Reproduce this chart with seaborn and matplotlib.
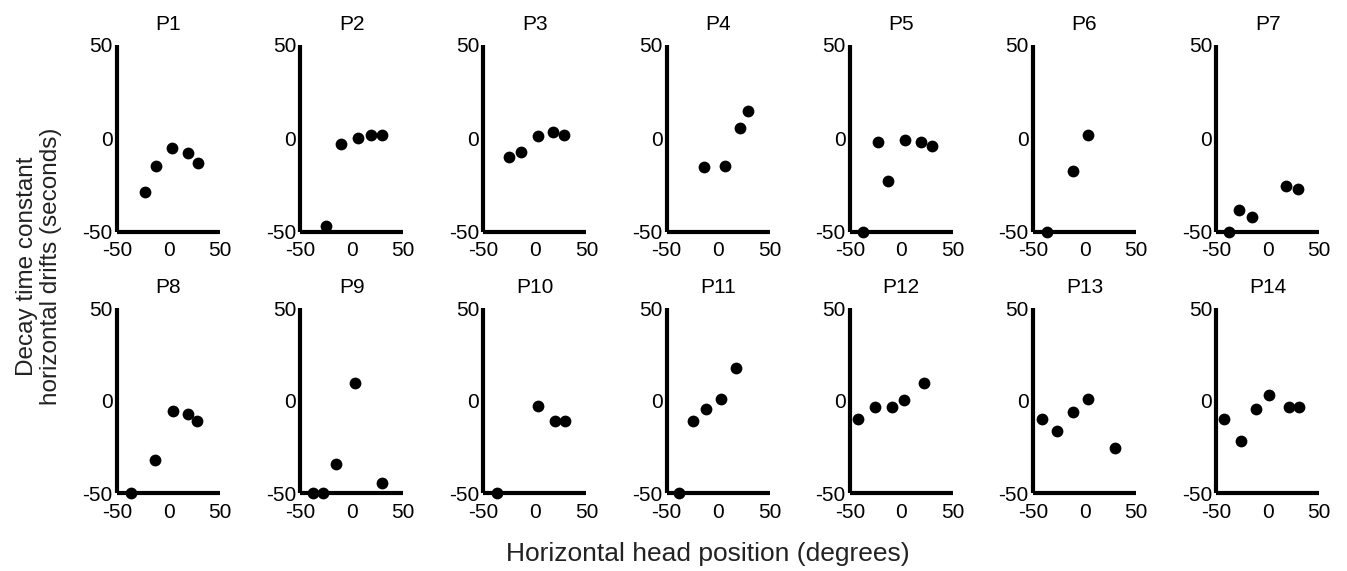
import matplotlib
matplotlib.use("Agg")
import matplotlib.pyplot as plt
import seaborn as sns
import pandas as pd

sns.set_theme(style="white")
plt.rcParams['font.family'] = ['Liberation Sans', 'DejaVu Sans']

panels = ["P1", "P2", "P3", "P4", "P5", "P6", "P7",
          "P8", "P9", "P10", "P11", "P12", "P13", "P14"]

x_p1 = [-23, -12, 3, 19, 29]
y_p1 = [-29, -15, -5, -8, -13]
x_p2 = [-25, -10, 6, 19, 29]
y_p2 = [-47, -3, 0, 2, 2]
x_p3 = [-25, -13.5, 3, 18, 28]
y_p3 = [-10, -7.5, 1, 3.6, 2]
x_p4 = [-13.5, 6.5, 21, 29]
y_p4 = [-15.5, -14.6, 5.4, 14.5]
x_p5 = [-37.5, -22.5, -12.7, 4, 19, 30]
y_p5 = [-50, -2, -23, -1, -2, -4]
x_p6 = [-36.4, -11.4, 3.2]
y_p6 = [-50, -17.5, 1.8]
x_p7 = [-37.8, -28.2, -15, 17.3, 29]
y_p7 = [-50, -38.4, -42, -25.5, -27.3]
x_p8 = [-36.8, -13.5, 4.5, 19, 27.4]
y_p8 = [-50, -32, -5.4, -7.2, -11]
x_p9 = [-37.5, -28, -15, 3, 29]
y_p9 = [-50, -50, -34, 9.4, -44.7]
x_p10 = [-37, 3, 19.7, 29]
y_p10 = [-50, -2.7, -11, -11]
x_p11 = [-37.7, -24.4, -11.4, 3, 17.5]
y_p11 = [-50, -11, -4.5, 1.1, 17.7]
x_p12 = [-42, -25.6, -9.4, 2.3, 22.4]
y_p12 = [-10, -3.6, -3.6, 0.2, 9.4]
x_p13 = [-41.2, -26.3, -11.4, 3.2, 29.5]
y_p13 = [-10, -16.4, -6.3, 1.1, -25.6]
x_p14 = [-42.6, -26.3, -11.8, 1.6, 21, 30.6]
y_p14 = [-10, -21.8, -4.5, 2.9, -3.6, -3.6]

xs = [x_p1, x_p2, x_p3, x_p4, x_p5, x_p6, x_p7,
      x_p8, x_p9, x_p10, x_p11, x_p12, x_p13, x_p14]
ys = [y_p1, y_p2, y_p3, y_p4, y_p5, y_p6, y_p7,
      y_p8, y_p9, y_p10, y_p11, y_p12, y_p13, y_p14]

tick_vals = [-50, 0, 50]
tick_labels = ["-50", "0", "50"]

W, H = 1347, 571
fig = plt.figure(figsize=(W / 100, H / 100), dpi=100)

col_left = [117 + i * 183.2 for i in range(7)]
ax_w = 103
rows = [(45, 231.7), (308.3, 493.3)]

for k, name in enumerate(panels):
    r, c = divmod(k, 7)
    top, bot = rows[r]
    ax = fig.add_axes([col_left[c] / W, (H - bot) / H, ax_w / W, (bot - top) / H])
    df = pd.DataFrame({"x": xs[k], "y": ys[k]})
    sns.scatterplot(data=df, x="x", y="y", ax=ax, color="black", s=72,
                    edgecolor="black", linewidth=0, clip_on=False, zorder=3)
    ax.set_xlim(-50, 50)
    ax.set_ylim(-50, 50)
    ax.set_xticks(tick_vals)
    ax.set_xticklabels(tick_labels)
    ax.set_yticks(tick_vals)
    ax.set_yticklabels(tick_labels)
    ax.tick_params(length=0, labelsize=15, colors="black")
    ax.tick_params(axis="y", pad=3)
    ax.tick_params(axis="x", pad=7)
    for s in ["top", "right"]:
        ax.spines[s].set_visible(False)
    for s in ["left", "bottom"]:
        ax.spines[s].set_linewidth(3.0)
        ax.spines[s].set_color("black")
        ax.spines[s].set_capstyle("butt")
    ax.set_xlabel("")
    ax.set_ylabel("")
    ax.set_title(name, fontsize=15, pad=11, color="black")
    ax.set_facecolor("none")

fig.text(708 / W, 1 - 554 / H, "Horizontal head position (degrees)",
         ha="center", va="center", fontsize=19, color="#222222")
fig.text(39 / W, 1 - 266 / H, "Decay time constant\nhorizontal drifts (seconds)",
         ha="center", va="center", rotation=90, fontsize=17.5, color="#222222",
         linespacing=1.1)

fig.savefig("out.png", dpi=100)
